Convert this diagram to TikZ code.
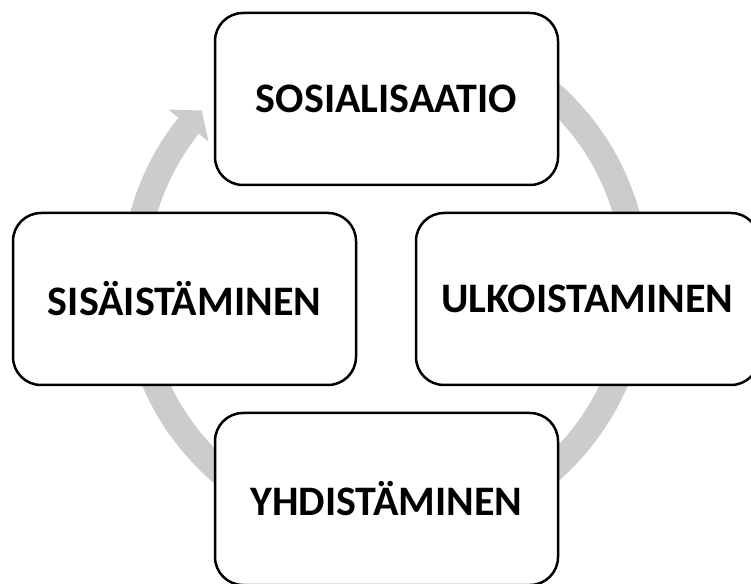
\documentclass[tikz,border=0pt]{standalone}
\usepackage{fontspec}
\setmainfont{Carlito}
\definecolor{ringgray}{HTML}{CCCCCC}
\begin{document}
\begin{tikzpicture}[x=1pt,y=1pt,
  stagebox/.style={draw=black, line width=2.5pt, fill=white, rounded corners=28pt,
    minimum width=343pt, minimum height=172pt, inner sep=0pt,
    font=\fontsize{42}{46}\selectfont\bfseries}]
\useasboundingbox (0,0) rectangle (751,583);
\clip (0,0) rectangle (751,583);
\coordinate (c) at (385,301);
% ring with arrowhead
\begin{scope}[shift={(c)}]
  \fill[ringgray] (141.5:264) arc[start angle=141.5, end angle=420, radius=264]
    -- (420:238) arc[start angle=420, end angle=141.5, radius=238] -- cycle;
  \fill[ringgray] (141.5:225.5) -- (136.9:251) -- (141.5:277) -- cycle;
\end{scope}
% boxes
\node[stagebox] (sos) at (386.5,484) {SOSIALISAATIO};
\node[stagebox] (ulk) at (587.5,284) {ULKOISTAMINEN};
\node[stagebox] (yhd) at (386.5,84) {YHDISTÄMINEN};
\node[stagebox] (sis) at (184.5,284) {SISÄISTÄMINEN};
\end{tikzpicture}
\end{document}
